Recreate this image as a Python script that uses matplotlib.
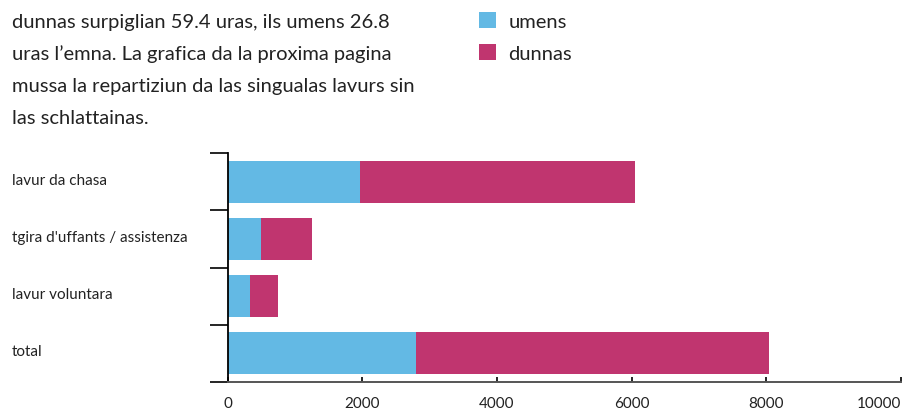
import matplotlib
matplotlib.use("Agg")
import matplotlib.pyplot as plt
from matplotlib.transforms import blended_transform_factory

plt.rcParams['font.family'] = ['Lato', 'DejaVu Sans']

categories = ["lavur da chasa", "tgira d'uffants / assistenza", "lavur voluntara", "total"]
umens = [1965, 495, 335, 2795]
dunnas = [4085, 760, 415, 5250]
xticks = [0, 2000, 4000, 6000, 8000, 10000]

intro = [
    "dunnas surpiglian 59.4 uras, ils umens 26.8",
    "uras l\u2019emna. La grafica da la proxima pagina",
    "mussa la repartiziun da las singualas lavurs sin",
    "las schlattainas.",
]

blue = "#63B9E4"
magenta = "#C0356F"
text_col = "#222222"

W, H = 915, 414
fig = plt.figure(figsize=(W / 100, H / 100), dpi=100)
ax = fig.add_axes([227.5 / W, 1 - 382.7 / H, (901 - 227.5) / W, (382.7 - 154.3) / H])

ypos = list(range(len(categories)))
b1 = ax.barh(ypos, umens, height=0.74, color=blue, label="umens")
b2 = ax.barh(ypos, dunnas, left=umens, height=0.74, color=magenta, label="dunnas")

ax.set_xlim(0, 10000)
ax.set_ylim(len(categories) - 0.5, -0.5)

# spines
for s in ["top", "right"]:
    ax.spines[s].set_visible(False)
ax.spines["left"].set_color("black")
ax.spines["left"].set_linewidth(1.3)
ax.spines["bottom"].set_color("#555555")
ax.spines["bottom"].set_linewidth(1.4)

# y: ticks at category boundaries, labels drawn as text
ax.set_yticks([i - 0.5 for i in range(len(categories) + 1)])
ax.set_yticklabels([])
ax.tick_params(axis="y", length=13, width=1.2, color="black")

trans = blended_transform_factory(fig.transFigure, ax.transData)
for i, name in enumerate(categories):
    ax.text(12 / W, i - 0.04, name, transform=trans, ha="left", va="center",
            fontsize=11, color=text_col)

# x ticks
ax.set_xticks(xticks)
ax.set_xticklabels([str(v) for v in xticks])
ax.tick_params(axis="x", direction="in", length=3.6, width=1.2, color="black",
               pad=10, labelsize=11, labelcolor=text_col)
ax.get_xticklabels()[-1].set_ha("right")

# legend
fig.legend(handles=[b1, b2], labels=["umens", "dunnas"], loc="upper left",
           bbox_to_anchor=(479 / W, 1 - 13 / H), frameon=False, fontsize=14.5,
           borderpad=0, borderaxespad=0,
           handlelength=0.85, handleheight=0.85, handletextpad=0.6,
           labelspacing=0.7, labelcolor=text_col)

# intro text
for k, line in enumerate(intro):
    fig.text(12 / W, 1 - (28.3 + 32 * k) / H, line, ha="left", va="baseline",
             fontsize=14.5, color=text_col)

fig.savefig("out.png", dpi=100)
